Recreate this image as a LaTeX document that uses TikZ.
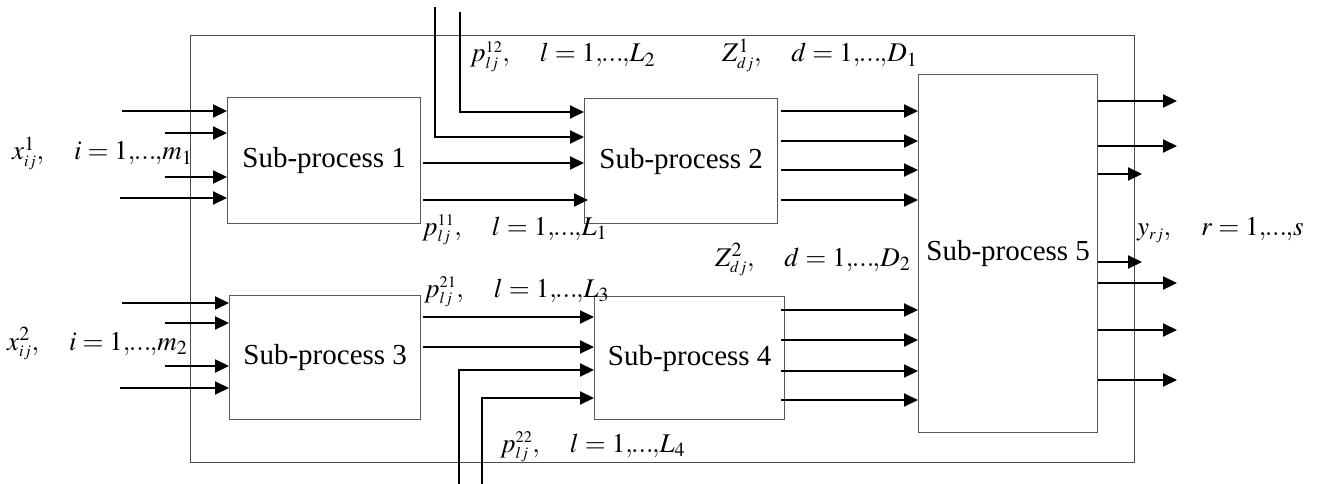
\documentclass[tikz,border=0pt]{standalone}
\usepackage{mathptmx}
\usepackage{fontspec}
\setmainfont{Liberation Serif}
\usetikzlibrary{arrows.meta}
\newcommand\rng[2]{#1=1{,}\mkern-1mu{.}{.}{.}\mkern-1mu{,}#2}
\newcommand\tinyidx[1]{{\scriptscriptstyle #1}}
\begin{document}
\begin{tikzpicture}[x=1pt,y=-1pt,
  box/.style={draw=black!65, line width=1.4pt, inner sep=0pt, anchor=north west,
    font=\fontsize{29}{32}\selectfont},
  outerbox/.style={draw=black!70, line width=1.4pt, inner sep=0pt, anchor=north west},
  arr/.style={-{Triangle[length=14pt,width=13pt]}, line width=2pt},
  lbl/.style={font=\fontsize{27}{30}\selectfont, inner sep=0pt, anchor=base west}]
\useasboundingbox (0,0) rectangle (1317,484);
\node[outerbox, minimum width=944pt, minimum height=427pt] (outer) at (190,35) {};
\node[box, minimum width=193pt, minimum height=126pt] (sp1) at (227,97) {Sub-process 1};
\node[box, minimum width=193pt, minimum height=125pt] (sp2) at (584,98) {Sub-process 2};
\node[box, minimum width=191pt, minimum height=124pt] (sp3) at (229,295) {Sub-process 3};
\node[box, minimum width=190pt, minimum height=123pt] (sp4) at (594,296) {Sub-process 4};
\node[box, minimum width=179pt, minimum height=358pt] (sp5) at (918,74) {Sub-process 5};
% inputs to sp1
\draw[arr] (122,111) -- (sp1.west |- 0,111);
\draw[arr] (165,133) -- (sp1.west |- 0,133);
\draw[arr] (165,177) -- (sp1.west |- 0,177);
\draw[arr] (120,198) -- (sp1.west |- 0,198);
% inputs to sp3
\draw[arr] (122,303) -- (sp3.west |- 0,303);
\draw[arr] (165,323) -- (sp3.west |- 0,323);
\draw[arr] (165,366) -- (sp3.west |- 0,366);
\draw[arr] (120,388) -- (sp3.west |- 0,388);
% sp2 inputs
\coordinate (t1) at (435,7);
\coordinate (t2) at (460,12);
\draw[arr] (t2) |- (sp2.west |- 0,112);
\draw[arr] (t1) |- (sp2.west |- 0,137);
\draw[arr] (423,163) -- (sp2.west |- 0,163);
\draw[arr] (423,200) -- ([xshift=4pt]sp2.west |- 0,200);
% sp4 inputs
\coordinate (b1) at (459,484);
\coordinate (b2) at (482,484);
\draw[arr] (423,317) -- (sp4.west |- 0,317);
\draw[arr] (423,347) -- (sp4.west |- 0,347);
\draw[arr] (b1) |- (sp4.west |- 0,370);
\draw[arr] (b2) |- (sp4.west |- 0,398);
% sp2 -> sp5
\foreach \yy in {111,141,170,200} \draw[arr] (781,\yy) -- (sp5.west |- 0,\yy);
% sp4 -> sp5
\foreach \yy in {310,340,371,400} \draw[arr] (781,\yy) -- (sp5.west |- 0,\yy);
% outputs
\foreach \yy in {101,146,283,330,380} \draw[arr] (sp5.east |- 0,\yy) -- (1177,\yy);
\foreach \yy in {174,262} \draw[arr] (sp5.east |- 0,\yy) -- (1142,\yy);
% labels
\node[lbl] (lx1) at (12,160) {$x^{1}_{\tinyidx{ij}},\quad \rng{i}{m_{1}}$};
\node[lbl] (lx2) at (7,350) {$x^{2}_{\tinyidx{ij}},\quad \rng{i}{m_{2}}$};
\node[lbl] (lp12) at (470,62) {$p^{\tinyidx{12}}_{\tinyidx{lj}},\quad \rng{l}{L_{2}}$};
\node[lbl] (lp11) at (422,235) {$p^{\tinyidx{11}}_{\tinyidx{lj}},\quad \rng{l}{L_{1}}$};
\node[lbl] (lp21) at (424,297) {$p^{\tinyidx{21}}_{\tinyidx{lj}},\quad \rng{l}{L_{3}}$};
\node[lbl] (lp22) at (500,452) {$p^{\tinyidx{22}}_{\tinyidx{lj}},\quad \rng{l}{L_{4}}$};
\node[lbl] (lz1) at (722,62) {$Z^{1}_{\tinyidx{dj}},\quad \rng{d}{D_{1}}$};
\node[lbl] (lz2) at (715,266) {$Z^{2}_{\tinyidx{dj}},\quad \rng{d}{D_{2}}$};
\node[lbl] (ly) at (1137,235) {$y_{\tinyidx{rj}},\quad \rng{r}{s}$};
\end{tikzpicture}
\end{document}
